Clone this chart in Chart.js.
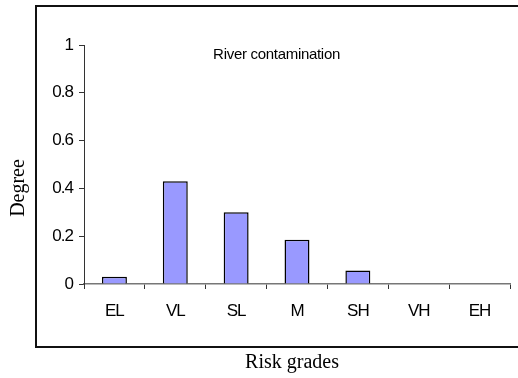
<!DOCTYPE html>
<html>
<head>
<meta charset="utf-8">
<script src="https://cdn.jsdelivr.net/npm/chart.js@4.4.1/dist/chart.umd.min.js"></script>
<style>
  html, body { margin: 0; padding: 0; background: #fff; overflow: hidden; }
  #wrap { width: 518px; height: 378px; }
</style>
</head>
<body>
<div id="wrap"><canvas id="riskChart" width="518" height="378"></canvas></div>
<script>
// risk grades and membership degrees
const grades = ['EL', 'VL', 'SL', 'M', 'SH', 'VH', 'EH'];
const degrees = [0.03, 0.43, 0.30, 0.185, 0.057, 0, 0];
const yTicks = [0, 0.2, 0.4, 0.6, 0.8, 1];
const panelTitle = 'River contamination';
const xTitle = 'Risk grades';
const yTitle = 'Degree';

const serif = '20px "Times New Roman", "Liberation Serif", serif';

// outer box, panel caption and axis titles
const frameBox = {
    id: 'frameBox',
    beforeDraw(chart) {
        const ctx = chart.ctx;
        ctx.letterSpacing = '0px';
        ctx.save();
        ctx.fillStyle = '#111';
        // top, left and bottom edges; the box runs off the right side
        ctx.fillRect(35, 5, chart.width - 35, 2);
        ctx.fillRect(35, 5, 2, 343);
        ctx.fillRect(35, 346, chart.width - 35, 2);
        ctx.restore();
    },
    afterDatasetsDraw(chart) {
        // tick labels (z: 1) come after this, set tighter
        chart.ctx.letterSpacing = '-1px';
    },
    afterDraw(chart) {
        const ctx = chart.ctx;
        const area = chart.chartArea;
        ctx.save();
        ctx.fillStyle = '#000';
        ctx.textAlign = 'center';
        ctx.textBaseline = 'middle';

        ctx.letterSpacing = '-0.3px';
        ctx.font = '15px Arial, "Liberation Sans", sans-serif';
        ctx.fillText(panelTitle, area.left + (area.right - area.left) * 0.452, area.top + 10);

        ctx.letterSpacing = '0px';
        ctx.font = serif;
        ctx.fillText(xTitle, 292, 363);

        ctx.translate(19, 188);
        ctx.rotate(-Math.PI / 2);
        ctx.fillText(yTitle, 0, 0);
        ctx.restore();
        ctx.letterSpacing = '0px';
    }
};

const ctx = document.getElementById('riskChart');
new Chart(ctx, {
    type: 'bar',
    data: {
        labels: grades,
        datasets: [{
            data: degrees,
            backgroundColor: '#9999ff',
            borderColor: '#000',
            borderWidth: 1.5,
            borderSkipped: 'bottom',
            barPercentage: 0.41,
            categoryPercentage: 1
        }]
    },
    options: {
        responsive: false,
        animation: false,
        layout: { padding: { top: 45, right: 8, left: 0, bottom: 0 } },
        plugins: {
            legend: { display: false },
            tooltip: { enabled: false }
        },
        scales: {
            x: {
                offset: true,
                grid: {
                    offset: true,
                    drawOnChartArea: false,
                    drawTicks: true,
                    tickLength: 5,
                    color: '#333',
                    lineWidth: 1
                },
                border: { display: true, color: '#777', width: 1.5 },
                ticks: {
                    z: 1,
                    color: '#000',
                    padding: 12,
                    maxRotation: 0,
                    font: { family: 'Arial, "Liberation Sans", sans-serif', size: 17 }
                },
                afterFit(scale) { scale.height = 94; }
            },
            y: {
                min: 0,
                max: 1,
                afterBuildTicks(scale) { scale.ticks = yTicks.map(v => ({ value: v })); },
                grid: {
                    drawOnChartArea: false,
                    drawTicks: true,
                    tickLength: 5,
                    color: '#333'
                },
                border: { display: true, color: '#333', width: 1 },
                ticks: {
                    z: 1,
                    color: '#000',
                    padding: 6,
                    font: { family: 'Arial, "Liberation Sans", sans-serif', size: 17 },
                    callback: v => String(Math.round(v * 10) / 10)
                },
                afterFit(scale) { scale.width = 84; }
            }
        }
    },
    plugins: [frameBox]
});
</script>
</body>
</html>
